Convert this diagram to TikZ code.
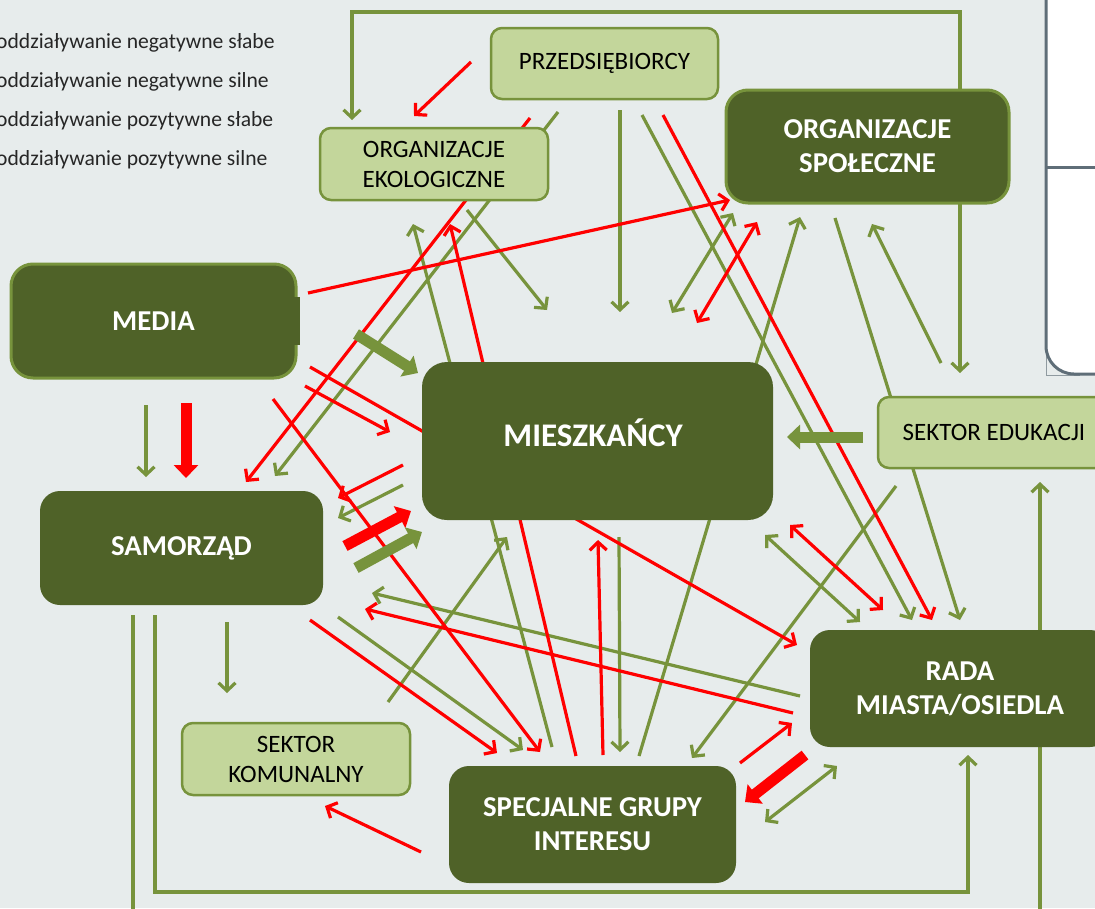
\documentclass[tikz,border=0pt]{standalone}
\usepackage{fontspec}
\setmainfont{Carlito}
\usetikzlibrary{arrows.meta}
\definecolor{bgc}{RGB}{231,236,236}
\definecolor{dk}{RGB}{79,98,40}
\definecolor{lt}{RGB}{195,214,155}
\definecolor{grn}{RGB}{119,147,60}
\definecolor{rd}{RGB}{255,0,0}
\definecolor{panelc}{RGB}{95,110,120}
\pgfdeclarelayer{back}
\pgfdeclarelayer{lines}
\pgfsetlayers{back,lines,main}
\tikzset{
  ltbox/.style={draw=grn, line width=2.5pt, fill=lt, rounded corners=11pt, inner sep=0pt,
    align=center, font=\fontsize{25}{30}\selectfont, text=black},
  dkbox/.style={fill=dk, rounded corners=20pt, inner sep=0pt, align=center,
    font=\fontsize{28.8}{34}\selectfont\bfseries, text=white},
  dkbord/.style={dkbox, draw=grn, line width=3pt},
  gl/.style={draw=grn, line width=3.2pt, -{Straight Barb[length=8pt,width=17pt]}},
  rl/.style={draw=rd, line width=3.2pt, -{Straight Barb[length=8pt,width=17pt]}},
  gdbl/.style={draw=grn, line width=3.2pt, {Straight Barb[length=8pt,width=17pt]}-{Straight Barb[length=8pt,width=17pt]}},
  rdbl/.style={draw=rd, line width=3.2pt, {Straight Barb[length=8pt,width=17pt]}-{Straight Barb[length=8pt,width=17pt]}},
  gplain/.style={draw=grn, line width=3.2pt},
  gthick/.style={draw=grn, line width=11pt, -{Triangle[length=13pt,width=24pt]}},
  rthick/.style={draw=rd, line width=11pt, -{Triangle[length=13pt,width=24pt]}},
  legtext/.style={anchor=base west, inner sep=0pt, font=\fontsize{21.6}{25}\selectfont, text=black!85}
}
\begin{document}
\begin{tikzpicture}[x=1pt,y=-1pt]
\useasboundingbox (0,0) rectangle (1095,908);
\clip (0,0) rectangle (1095,908);
\begin{pgfonlayer}{back}
  \fill[bgc] (0,0) rectangle (1095,908);
\end{pgfonlayer}

% legend
\node[legtext] (leg1) at (-4,48) {oddziaływanie negatywne słabe};
\node[legtext] (leg2) at (-4,87) {oddziaływanie negatywne silne};
\node[legtext] (leg3) at (-4,126) {oddziaływanie pozytywne słabe};
\node[legtext] (leg4) at (-4,165) {oddziaływanie pozytywne silne};

% right panel
\draw[panelc!70, line width=0.8pt] (1046,340) -- (1046,375) -- (1080,375);
\draw[panelc, line width=3pt, fill=white, rounded corners=28pt] (1046,-20) -- (1046,374) -- (1130,374) -- (1130,-20);
\draw[panelc, line width=3pt] (1046,167) -- (1100,167);

% nodes
\node[ltbox, minimum width=227pt, minimum height=71pt] (przed) at (604.5,63.5) {PRZEDSIĘBIORCY};
\node[ltbox, minimum width=228pt, minimum height=72pt] (orgeko) at (434,164) {ORGANIZACJE\\EKOLOGICZNE};
\node[dkbord, rounded corners=22pt, minimum width=283pt, minimum height=113pt] (orgspol) at (867.5,146.5) {ORGANIZACJE\\SPOŁECZNE};
\node[dkbord, rounded corners=22pt, minimum width=285pt, minimum height=114pt] (media) at (153.5,321) {MEDIA};
\node[fill=dk, inner sep=0pt, minimum width=8pt, minimum height=48pt] (mediatab) at (296,321) {};
\node[dkbox, rounded corners=25pt, minimum width=351pt, minimum height=158pt] (miesz) at (597.5,441) {};
\node[inner sep=0pt, font=\fontsize{33}{38}\selectfont\bfseries, text=white] (mieszt) at (593,433) {MIESZKAŃCY};
\node[ltbox, minimum width=232pt, minimum height=71pt] (sektedu) at (994,432.5) {SEKTOR EDUKACJI};
\node[dkbox, minimum width=283pt, minimum height=114pt] (samorzad) at (181.5,548) {SAMORZĄD};
\node[dkbox, minimum width=300pt, minimum height=117pt] (rada) at (960,688.5) {RADA\\MIASTA/OSIEDLA};
\node[dkbox, minimum width=287pt, minimum height=117pt] (specj) at (592.5,824.5) {SPECJALNE GRUPY\\INTERESU};
\node[ltbox, minimum width=228pt, minimum height=72pt] (sektkom) at (296,759) {SEKTOR\\KOMUNALNY};

% coordinates
\coordinate (tl1) at (352,120); \coordinate (tl2) at (352,12); \coordinate (tl3) at (960,12); \coordinate (tl4) at (960,373);
\coordinate (bl1) at (155,615); \coordinate (bl2) at (155,892); \coordinate (bl3) at (968,892); \coordinate (bl4) at (968,755);
\coordinate (va1) at (133,615); \coordinate (va2) at (133,915);
\coordinate (vb1) at (1040,915); \coordinate (vb2) at (1040,482);
\coordinate (g1a) at (146,405); \coordinate (g1b) at (146,477);
\coordinate (g2a) at (227,622); \coordinate (g2b) at (227,693);
\coordinate (g3a) at (558,112); \coordinate (g3b) at (275,476);
\coordinate (g4a) at (620,110); \coordinate (g4b) at (620,312);
\coordinate (g5a) at (642,115); \coordinate (g5b) at (912,620);
\coordinate (g6a) at (835,218); \coordinate (g6b) at (960,620);
\coordinate (g7a) at (941,363); \coordinate (g7b) at (872,224);
\coordinate (g8a) at (639,756); \coordinate (g8b) at (800,217);
\coordinate (g9a) at (672,313); \coordinate (g9b) at (733,213);
\coordinate (g10a) at (467,210); \coordinate (g10b) at (547,310);
\coordinate (g11a) at (552,747); \coordinate (g11b) at (413,224);
\coordinate (g12a) at (403,485); \coordinate (g12b) at (338,518);
\coordinate (g13a) at (800,696); \coordinate (g13b) at (372,593);
\coordinate (g14a) at (338,617); \coordinate (g14b) at (523,750);
\coordinate (g15a) at (388,702); \coordinate (g15b) at (507,537);
\coordinate (g16a) at (619,537); \coordinate (g16b) at (620,752);
\coordinate (g17a) at (896,486); \coordinate (g17b) at (692,758);
\coordinate (g18a) at (765,535); \coordinate (g18b) at (860,622);
\coordinate (g19a) at (765,822); \coordinate (g19b) at (837,766);
\coordinate (r1a) at (471,62); \coordinate (r1b) at (414,116);
\coordinate (r2a) at (530,118); \coordinate (r2b) at (246,482);
\coordinate (r3a) at (663,115); \coordinate (r3b) at (932,620);
\coordinate (r4a) at (308,293); \coordinate (r4b) at (730,200);
\coordinate (r5a) at (697,323); \coordinate (r5b) at (757,222);
\coordinate (r6a) at (576,756); \coordinate (r6b) at (450,224);
\coordinate (r7a) at (310,367); \coordinate (r7b) at (797,645);
\coordinate (r8a) at (305,386); \coordinate (r8b) at (390,432);
\coordinate (r9a) at (273,399); \coordinate (r9b) at (540,752);
\coordinate (r10a) at (403,465); \coordinate (r10b) at (338,498);
\coordinate (r11a) at (793,713); \coordinate (r11b) at (365,609);
\coordinate (r12a) at (310,620); \coordinate (r12b) at (497,753);
\coordinate (r13a) at (603,755); \coordinate (r13b) at (598,540);
\coordinate (r14a) at (790,525); \coordinate (r14b) at (883,610);
\coordinate (r15a) at (740,763); \coordinate (r15b) at (792,723);
\coordinate (r16a) at (421,852); \coordinate (r16b) at (325,806);
\coordinate (t1a) at (186,403); \coordinate (t1b) at (186,478);
\coordinate (t2a) at (356,334); \coordinate (t2b) at (418,373);
\coordinate (t3a) at (345,546); \coordinate (t3b) at (411,511);
\coordinate (t4a) at (356,568); \coordinate (t4b) at (422,532);
\coordinate (t5a) at (863,437); \coordinate (t5b) at (787,437);
\coordinate (t6a) at (805,755); \coordinate (t6b) at (745,802);

\begin{pgfonlayer}{lines}
  \draw[gdbl] (tl1) -- (tl2) -- (tl3) -- (tl4);
  \draw[gl] (bl1) -- (bl2) -- (bl3) -- (bl4);
  \draw[gplain] (va1) -- (va2);
  \draw[gl] (vb1) -- (vb2);
  \foreach \i in {1,2,3,4,5,6,7,8,10,11,12,13,14,15,16,17} {\draw[gl] (g\i a) -- (g\i b);}
  \draw[gdbl] (g9a) -- (g9b);
  \draw[gdbl] (g18a) -- (g18b);
  \draw[gdbl] (g19a) -- (g19b);
  \foreach \i in {1,2,3,4,6,7,8,9,10,11,12,13,15,16} {\draw[rl] (r\i a) -- (r\i b);}
  \draw[rdbl] (r5a) -- (r5b);
  \draw[rdbl] (r14a) -- (r14b);
  \draw[rthick] (t1a) -- (t1b);
  \draw[gthick] (t2a) -- (t2b);
  \draw[rthick] (t3a) -- (t3b);
  \draw[gthick] (t4a) -- (t4b);
  \draw[gthick] (t5a) -- (t5b);
  \draw[rthick] (t6a) -- (t6b);
\end{pgfonlayer}
\end{tikzpicture}
\end{document}
